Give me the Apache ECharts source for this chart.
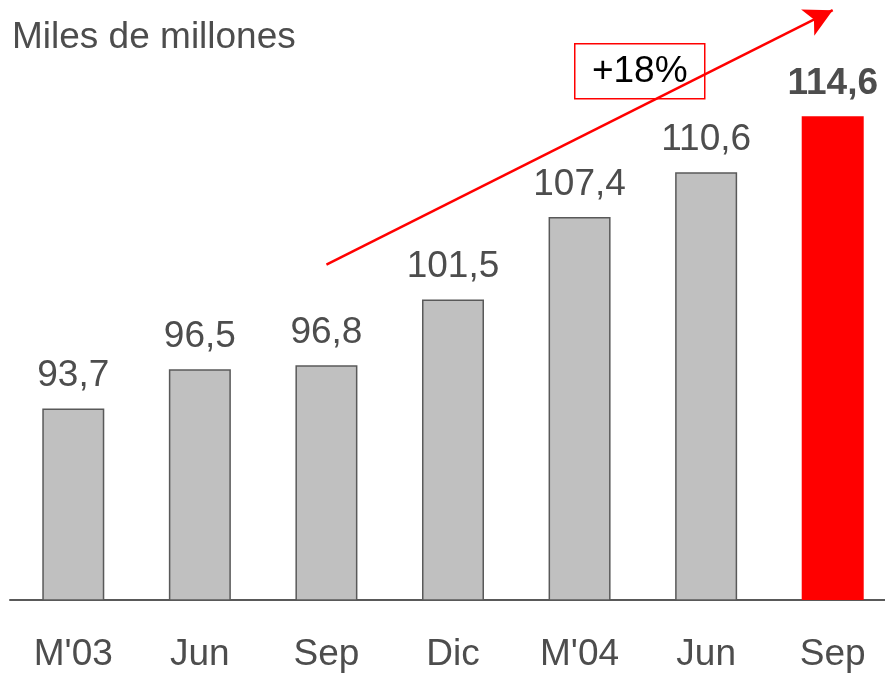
<!DOCTYPE html>
<html>
<head>
<meta charset="utf-8">
<script src="https://cdn.jsdelivr.net/npm/echarts@6/dist/echarts.min.js"></script>
<style>
  html, body { margin: 0; padding: 0; background: #fff; }
  #chart { width: 885px; height: 675px; }
</style>
</head>
<body>
<div id="chart"></div>
<script>
// periodos (M = marzo)
const categories = ["M'03", 'Jun', 'Sep', 'Dic', "M'04", 'Jun', 'Sep'];
// miles de millones
const values = [93.7, 96.5, 96.8, 101.5, 107.4, 110.6, 114.6];
// flecha de crecimiento: [indice categoria, valor]
const arrowFrom = [2, 104.0];
const arrowTo = [6, 122.2];
const growthText = '+18%';

const font = 'Liberation Sans, Arial, sans-serif';
const last = values.length - 1;

const chart = echarts.init(document.getElementById('chart'));

const barData = values.map(function (v, i) {
  if (i === last) {
    return {
      value: v,
      itemStyle: { color: '#ff0000', borderWidth: 0 },
      label: { fontWeight: 'bold', color: '#4d4d4d' }
    };
  }
  return v;
});

chart.setOption({
  animation: false,
  title: {
    text: 'Miles de millones',
    left: 7,
    top: 14,
    textStyle: { fontFamily: font, fontSize: 37, fontWeight: 'normal', color: '#4d4d4d' }
  },
  // escala: 80 en la linea base (y=600), ~14 px por unidad
  grid: { left: 10, width: 886, top: -29, bottom: 75, outerBoundsMode: 'none', containLabel: false },
  xAxis: {
    type: 'category',
    data: categories,
    axisLine: { lineStyle: { color: '#595959', width: 2 } },
    axisTick: { show: false },
    axisLabel: { fontFamily: font, fontSize: 37, color: '#4d4d4d', margin: 36 }
  },
  yAxis: {
    type: 'value',
    min: 80,
    max: 125,
    show: false,
    splitLine: { show: false }
  },
  series: [{
    type: 'bar',
    data: barData,
    barWidth: 62,
    itemStyle: { color: '#c0c0c0', borderColor: '#595959', borderWidth: 1.5 },
    label: {
      show: true,
      position: 'top',
      distance: 14,
      fontFamily: font,
      fontSize: 37,
      color: '#4d4d4d',
      formatter: function (p) { return String(p.value).replace('.', ','); }
    },
    markLine: {
      silent: true,
      symbol: ['none', 'arrow'],
      symbolSize: [22, 28],
      label: { show: false },
      lineStyle: { color: '#ff0000', width: 2.5, type: 'solid' },
      data: [[{ coord: arrowFrom }, { coord: arrowTo }]]
    }
  }],
  graphic: [{
    type: 'group',
    left: 574,
    top: 43,
    z: 100,
    children: [{
      type: 'rect',
      shape: { x: 0, y: 0, width: 130, height: 55 },
      style: { fill: '#fff', stroke: '#ff0000', lineWidth: 1.5 }
    }, {
      type: 'text',
      x: 65,
      y: 28,
      style: {
        text: growthText,
        fontFamily: font,
        fontSize: 37,
        fill: '#000',
        align: 'center',
        verticalAlign: 'middle'
      }
    }]
  }]
});
</script>
</body>
</html>
